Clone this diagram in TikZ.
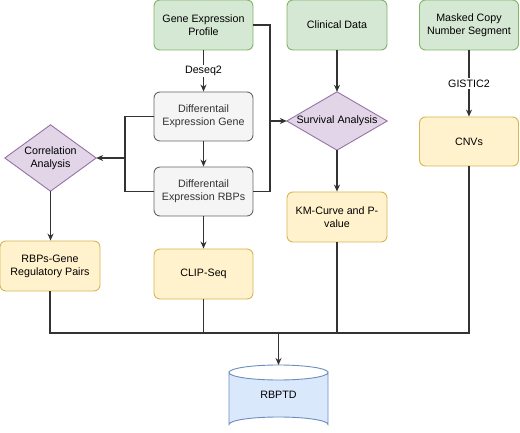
\documentclass[tikz,border=0pt]{standalone}
\usepackage{fontspec}
\setmainfont{Liberation Sans}
\usetikzlibrary{arrows.meta,backgrounds}
\definecolor{gfill}{HTML}{D5E8D4}\definecolor{gdraw}{HTML}{82B366}
\definecolor{wfill}{HTML}{F5F5F5}\definecolor{wdraw}{HTML}{666666}
\definecolor{pfill}{HTML}{E1D5E7}\definecolor{pdraw}{HTML}{9673A6}
\definecolor{yfill}{HTML}{FFF2CC}\definecolor{ydraw}{HTML}{D6B656}
\definecolor{bfill}{HTML}{DAE8FC}\definecolor{bdraw}{HTML}{6C8EBF}
\definecolor{lncol}{HTML}{333333}
\begin{document}
\begin{tikzpicture}[x=1pt,y=-1pt,
  font=\fontsize{10.7}{13}\selectfont,
  box/.style={rectangle,rounded corners=6pt,line width=0.9pt,minimum width=99pt,minimum height=50pt,align=center,inner sep=2pt},
  greenbox/.style={box,fill=gfill,draw=gdraw},
  graybox/.style={box,fill=wfill,draw=wdraw,text=lncol,minimum height=49pt},
  yellowbox/.style={box,fill=yfill,draw=ydraw},
  dshape/.style={rectangle,align=center,inner sep=0pt},
  dfill/.style={fill=pfill,draw=pdraw,line width=0.9pt},
  ln/.style={draw=lncol,line width=1.1pt},
  arr/.style={ln,-{Stealth[length=7pt,width=6pt]}},
  lbl/.style={fill=white,inner sep=1.5pt}]
\useasboundingbox (0,0) rectangle (520,433);
% nodes
\node[greenbox] (gep) at (203.5,25) {Gene Expression\\Profile};
\node[greenbox,minimum width=100pt] (clin) at (337,25) {Clinical Data};
\node[greenbox] (mask) at (469,25) {Masked Copy\\Number Segment};
\node[graybox] (deg) at (203.5,116.5) {Differentail\\Expression Gene};
\node[graybox] (derbp) at (203.5,191.5) {Differentail\\Expression RBPs};
\node[dshape,minimum width=91pt,minimum height=66pt] (corr) at (50.5,158) {Correlation\\Analysis};
\node[dshape,minimum width=100pt,minimum height=58pt] (surv) at (337,121) {Survival Analysis};
\node[yellowbox,minimum height=49pt] (cnv) at (469,141.5) {CNVs};
\node[yellowbox,minimum width=100pt] (km) at (337,217) {KM-Curve and P-\\value};
\node[yellowbox,minimum width=100pt] (rbpg) at (50,266) {RBPs-Gene\\Regulatory Pairs};
\node[yellowbox] (clip) at (203.5,274) {CLIP-Seq};
\node[dshape,minimum width=99pt,minimum height=67pt,yshift=4pt] (dbt) at (278.5,398.5) {RBPTD};
\coordinate (db) at (278.5,365);
\begin{scope}[on background layer]
  \draw[dfill] (corr.north) -- (corr.east) -- (corr.south) -- (corr.west) -- cycle;
  \draw[dfill] (surv.north) -- (surv.east) -- (surv.south) -- (surv.west) -- cycle;
  \draw[fill=bfill,draw=bdraw,line width=0.9pt] (229,372.5) -- (229,424.5) arc (180:360:49.5 and 7.5) -- (328,372.5) arc (0:180:49.5 and 7.5) -- cycle;
  \draw[draw=bdraw,line width=0.9pt] (229,372.5) arc (180:360:49.5 and 7.5);
\end{scope}
% connectors
\draw[arr] (gep) -- node[lbl] {Deseq2} (deg);
\draw[arr] (deg) -- (derbp);
\draw[arr] (derbp) -- (clip);
\draw[arr] (clin) -- (surv.north);
\draw[arr] (surv.south) -- (km);
\draw[arr] (mask) -- node[lbl] {GISTIC2} (cnv);
\draw[arr] (corr.south) -- (corr.south |- rbpg.north);
\coordinate (lj) at (125,158);
\draw[ln] (deg.west) -| (lj) |- (derbp.west);
\draw[arr] (lj) -- (corr.east);
\coordinate (rj) at (270,121);
\draw[ln] (gep.east) -| (rj) |- (derbp.east);
\draw[arr] (rj) -- (surv.west);
\coordinate (bus) at (278.5,333);
\draw[ln] (rbpg.south) |- (bus) -| (cnv.south);
\draw[ln] (clip.south) -- (clip.south |- bus);
\draw[ln] (km.south) -- (km.south |- bus);
\draw[arr] (bus) -- (db);
\end{tikzpicture}
\end{document}
